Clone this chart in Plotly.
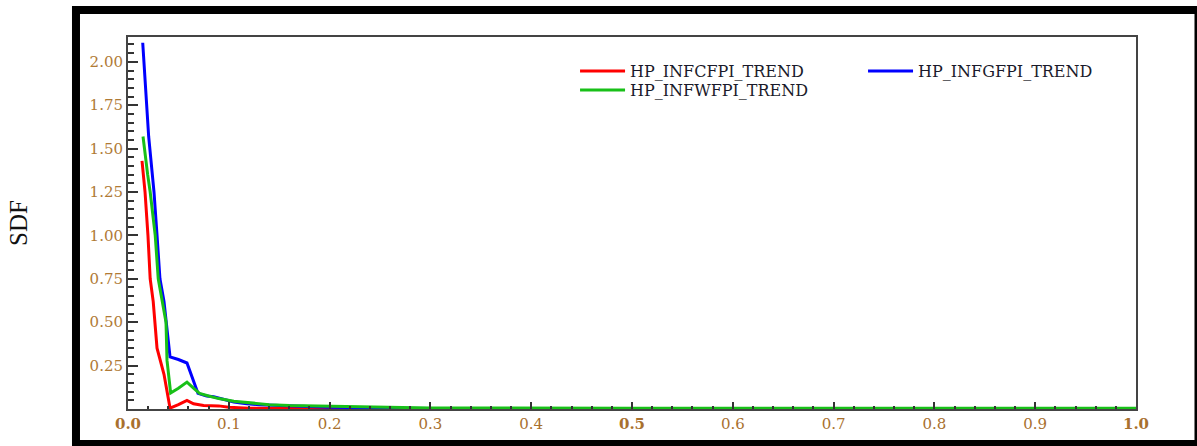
import plotly.graph_objects as go

# ---- data ----
red_name = "HP_INFCFPI_TREND"
blue_name = "HP_INFGFPI_TREND"
green_name = "HP_INFWFPI_TREND"

red_x = [0.0139, 0.0169, 0.0198, 0.0220, 0.0250, 0.0270, 0.0288, 0.0357, 0.0417,
         0.0500, 0.0585, 0.0650, 0.0750, 0.0900, 0.1000, 0.1200, 0.1500, 0.2000, 0.5000, 1.0000]
red_y = [1.43, 1.25, 1.00, 0.75, 0.62, 0.50, 0.35, 0.20, 0.005,
         0.025, 0.05, 0.03, 0.02, 0.018, 0.01, 0.005, 0.002, 0.001, 0.0, 0.0]

blue_x = [0.0146, 0.0165, 0.0185, 0.0205, 0.0225, 0.0258, 0.0288, 0.0317, 0.0357, 0.0377,
          0.0417, 0.0500, 0.0585, 0.0694, 0.0780, 0.0850, 0.0950, 0.1050, 0.1120, 0.1180,
          0.1300, 0.1500, 0.1700, 0.1800, 0.2000, 0.2300, 0.2470, 0.2600, 0.3000, 0.5000,
          0.7500, 1.0000]
blue_y = [2.11, 1.92, 1.75, 1.57, 1.45, 1.25, 1.00, 0.75, 0.62, 0.50,
          0.30, 0.285, 0.265, 0.09, 0.075, 0.07, 0.055, 0.04, 0.035, 0.03,
          0.025, 0.02, 0.016, 0.015, 0.01, 0.008, 0.008, 0.004, 0.003, 0.002,
          0.001, 0.001]

green_x = [0.0149, 0.0170, 0.0195, 0.0220, 0.0270, 0.0300, 0.0377, 0.0387, 0.0423,
           0.0500, 0.0585, 0.0650, 0.0710, 0.0800, 0.0900, 0.1050, 0.1200, 0.1400,
           0.1600, 0.2000, 0.2500, 0.3000, 0.5000, 0.7500, 1.0000]
green_y = [1.57, 1.45, 1.35, 1.25, 1.00, 0.75, 0.50, 0.28, 0.092,
           0.12, 0.155, 0.12, 0.09, 0.075, 0.06, 0.045, 0.035, 0.025,
           0.02, 0.015, 0.01, 0.006, 0.005, 0.004, 0.004]

x_tickvals = [0.0, 0.1, 0.2, 0.3, 0.4, 0.5, 0.6, 0.7, 0.8, 0.9, 1.0]
x_ticklabels = ["0.0", "0.1", "0.2", "0.3", "0.4", "0.5", "0.6", "0.7", "0.8", "0.9", "1.0"]
y_tickvals = [0.25, 0.50, 0.75, 1.00, 1.25, 1.50, 1.75, 2.00]
y_ticklabels = ["0.25", "0.50", "0.75", "1.00", "1.25", "1.50", "1.75", "2.00"]
y_title = "SDF"

# ---- figure ----
fig = go.Figure()
fig.add_trace(go.Scatter(x=red_x, y=red_y, mode="lines", name=red_name, legend="legend",
                         line=dict(color="#ff0000", width=3)))
fig.add_trace(go.Scatter(x=blue_x, y=blue_y, mode="lines", name=blue_name, legend="legend2",
                         line=dict(color="#0000ff", width=3)))
fig.add_trace(go.Scatter(x=green_x, y=green_y, mode="lines", name=green_name, legend="legend3",
                         line=dict(color="#18c018", width=3)))

bold = {"0.0", "0.5", "1.0"}
x_text = [f"<b>{t}</b>" if t in bold else t for t in x_ticklabels]

leg_common = dict(orientation="v", xanchor="left", yanchor="middle",
                  bgcolor="rgba(0,0,0,0)", borderwidth=0, itemwidth=45,
                  font=dict(size=16, color="#1a1a2a", family="DejaVu Serif"))

fig.update_layout(
    width=1197, height=446,
    margin=dict(l=128, r=61, t=37, b=37),
    paper_bgcolor="white", plot_bgcolor="white",
    font=dict(family="DejaVu Serif", color="#222222"),
    showlegend=True,
    legend=dict(x=0.4435, y=0.9086, **leg_common),
    legend2=dict(x=0.7292, y=0.9086, **leg_common),
    legend3=dict(x=0.4435, y=0.8575, **leg_common),
    xaxis=dict(range=[0, 1], tickvals=x_tickvals, ticktext=x_text,
               ticks="inside", ticklen=7, tickwidth=1.5, tickcolor="#333",
               minor=dict(dtick=0.02, ticks="inside", ticklen=3, tickcolor="#333"),
               showgrid=False, zeroline=False, showline=True, linecolor="#444",
               linewidth=2, mirror=True,
               tickfont=dict(size=15, color="#a8702e", family="DejaVu Serif")),
    yaxis=dict(range=[0, 2.143], tickvals=y_tickvals, ticktext=y_ticklabels,
               ticks="inside", ticklen=10, tickwidth=1.5, tickcolor="#333",
               minor=dict(dtick=0.05, ticks="inside", ticklen=6, tickcolor="#333"),
               showgrid=False, zeroline=False, showline=True, linecolor="#444",
               linewidth=2, mirror=True,
               tickfont=dict(size=15, color="#b07a35", family="DejaVu Serif"),
               title=dict(text=y_title, font=dict(size=25, family="Liberation Serif",
                                                  color="#111"), standoff=55)),
)

# outer black frame around the whole picture
fig.add_shape(type="rect", xref="paper", yref="paper",
              x0=-0.0516, x1=1.062, y0=-0.094, y1=1.0726,
              line=dict(color="black", width=8), fillcolor="rgba(0,0,0,0)")

fig.write_html("out.html", config={"displayModeBar": False},
               post_script="document.body.style.margin='0';")
